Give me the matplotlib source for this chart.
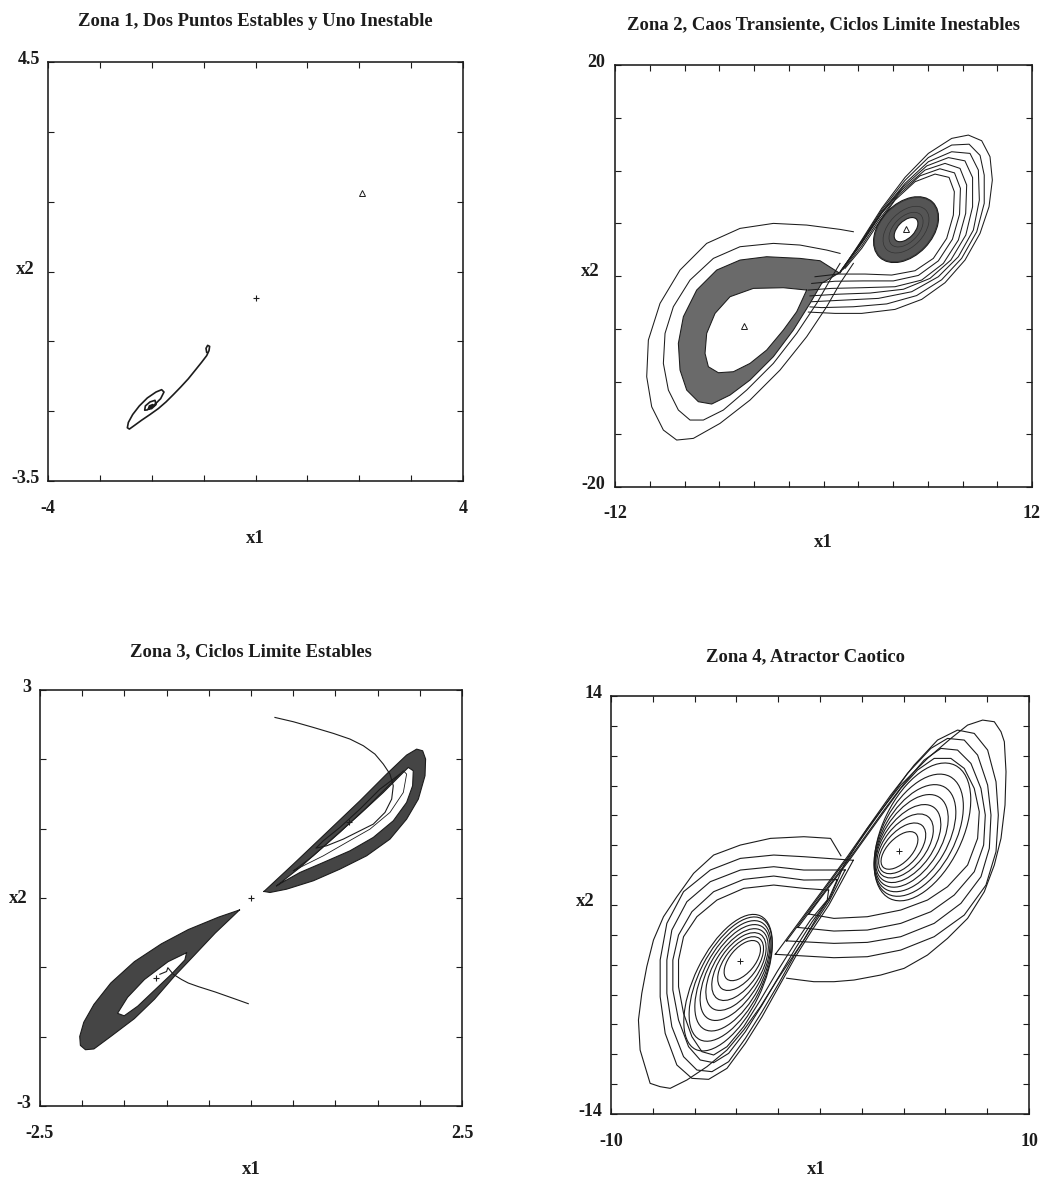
import numpy as np
import matplotlib
matplotlib.use("Agg")
import matplotlib.pyplot as plt
from matplotlib.patches import Ellipse, Polygon
from matplotlib.transforms import Affine2D, ScaledTranslation

plt.rcParams['font.family'] = ['Liberation Serif', 'DejaVu Serif']
plt.rcParams['font.weight'] = 'bold'

# ----------------------------------------------------------------- data
titles = ["Zona 1, Dos Puntos Estables y Uno Inestable",
          "Zona 2, Caos Transiente, Ciclos Limite Inestables",
          "Zona 3, Ciclos Limite Estables",
          "Zona 4, Atractor Caotico"]
z1_xlim, z1_ylim = (-4, 4), (-3.5, 4.5)
z2_xlim, z2_ylim = (-12, 12), (-20, 20)
z3_xlim, z3_ylim = (-2.5, 2.5), (-3, 3)
z4_xlim, z4_ylim = (-10, 10), (-14, 14)
z1_xticklab, z1_yticklab = ["-4", "4"], ["-3.5", "4.5"]
z2_xticklab, z2_yticklab = ["-12", "12"], ["-20", "20"]
z3_xticklab, z3_yticklab = ["-2.5", "2.5"], ["-3", "3"]
z4_xticklab, z4_yticklab = ["-10", "10"], ["-14", "14"]

# ---- Zona 1 : trajectory spiralling into the stable point
z1_traj = [(-0.942, -1.042), (-0.955, -0.967), (-0.923, -0.910), (-0.885, -0.929),
           (-0.897, -1.011), (-0.942, -1.106), (-1.039, -1.232), (-1.167, -1.390),
           (-1.296, -1.548), (-1.443, -1.706), (-1.585, -1.851), (-1.726, -1.990),
           (-1.874, -2.117), (-2.034, -2.230), (-2.195, -2.338), (-2.343, -2.445),
           (-2.432, -2.508), (-2.471, -2.483), (-2.452, -2.382), (-2.368, -2.230),
           (-2.240, -2.066), (-2.086, -1.914), (-1.919, -1.801), (-1.810, -1.756),
           (-1.765, -1.801), (-1.829, -1.927), (-1.957, -2.053), (-2.086, -2.142),
           (-2.137, -2.148), (-2.124, -2.066), (-2.034, -1.990), (-1.938, -1.959),
           (-1.919, -2.041), (-2.002, -2.117), (-2.066, -2.129), (-2.047, -2.066),
           (-1.983, -2.041), (-1.996, -2.091), (-2.021, -2.085)]
z1_plus = [(0.0, 0.0)]
z1_tri = [(2.05, 2.0)]

# ---- Zona 2
z2_tri = [(-4.56, -4.74), (4.75, 4.42)]
z2_left_band_outer = [(0.90, 0.30), (-0.201, 1.454), (-1.352, 1.675), (-3.271, 1.833),
                      (-4.806, 1.517), (-6.148, 0.569), (-7.300, -1.327), (-8.067, -3.854),
                      (-8.355, -6.382), (-8.259, -8.910), (-7.875, -10.806), (-7.204, -11.912),
                      (-6.436, -12.133), (-5.381, -11.280), (-4.230, -9.858), (-2.887, -7.646),
                      (-1.736, -5.118), (-0.777, -2.591), (-0.105, -0.695)]
z2_left_hole = [(-0.969, -1.327), (-2.311, -1.106), (-4.038, -1.169), (-5.381, -1.959),
                (-6.244, -3.539), (-6.724, -5.434), (-6.820, -7.330), (-6.628, -8.594),
                (-6.053, -9.163), (-5.189, -9.068), (-4.230, -8.278), (-3.271, -7.014),
                (-2.311, -5.118), (-1.544, -3.381)]
z2_left_loop2 = [(0.950, 2.149), (0.183, 2.465), (-1.352, 2.939), (-2.887, 3.097), (-4.806, 2.781),
                 (-6.340, 1.675), (-7.683, -0.379), (-8.643, -2.907), (-9.122, -5.434),
                 (-9.218, -8.278), (-8.930, -10.806), (-8.355, -12.701), (-7.683, -13.649),
                 (-6.916, -13.649), (-5.765, -12.701), (-4.422, -10.806), (-2.887, -8.278),
                 (-1.544, -5.434), (-0.393, -2.591), (0.374, -0.379), (0.950, 1.201)]
z2_left_loop1 = [(1.718, 4.202), (0.950, 4.424), (-0.969, 4.834), (-2.887, 4.992), (-4.806, 4.518),
                 (-6.724, 3.097), (-8.259, 0.569), (-9.410, -2.591), (-10.081, -6.066),
                 (-10.177, -9.542), (-9.890, -12.386), (-9.218, -14.597), (-8.451, -15.545),
                 (-7.491, -15.387), (-5.956, -13.965), (-4.230, -11.754), (-2.503, -8.910),
                 (-0.969, -5.750), (0.183, -2.907), (0.950, -0.695), (1.718, 1.201)]
# dense ring of the right lobe: (cx, cy, a, b, angle); a, b in x-units of equal screen length
z2_right_ring = [(4.75, 4.40, 2.20, 1.50, 46.0), (4.75, 4.40, 0.85, 0.48, 46.0)]
z2_right_ring_lines = [(4.75, 4.40, 2.15, 1.45, 46.0), (4.75, 4.40, 1.60, 1.00, 46.0),
                       (4.75, 4.40, 1.20, 0.72, 46.0)]
z2_R1 = [(1.238, 0.727), (2.197, 2.623), (3.156, 4.992), (4.116, 7.204), (5.267, 8.942),
         (6.418, 9.668), (7.224, 9.353), (7.530, 7.994), (7.473, 5.782), (7.089, 3.570),
         (6.322, 1.675), (5.267, 0.506), (3.924, 0.095), (2.389, 0.190), (0.854, 0.190),
         (-0.489, -0.063)]
z2_Ra = [(1.14, 0.65), (2.20, 2.86), (3.25, 5.47), (4.31, 7.68), (5.55, 9.50), (6.70, 10.17),
         (7.54, 9.78), (7.88, 8.31), (7.83, 5.86), (7.42, 3.49), (6.61, 1.44), (5.46, 0.06),
         (4.02, -0.46), (2.29, -0.46), (0.66, -0.49), (-0.68, -0.70)]
z2_R2 = [(1.046, 0.569), (2.197, 3.097), (3.348, 5.940), (4.499, 8.152), (5.842, 10.048),
         (6.993, 10.680), (7.856, 10.205), (8.240, 8.626), (8.183, 5.940), (7.761, 3.413),
         (6.897, 1.201), (5.650, -0.379), (4.116, -1.011), (2.197, -1.106), (0.470, -1.169),
         (-0.873, -1.327)]
z2_Rb = [(1.00, 0.49), (2.20, 3.18), (3.35, 6.02), (4.60, 8.47), (5.94, 10.44), (7.19, 11.23),
         (8.14, 10.92), (8.58, 9.34), (8.58, 6.57), (8.19, 3.89), (7.33, 1.52), (6.13, -0.22),
         (4.60, -1.25), (2.68, -1.61), (0.85, -1.72), (-0.78, -1.88)]
z2_R3 = [(0.950, 0.411), (2.197, 3.254), (3.348, 6.098), (4.691, 8.784), (6.034, 10.838),
         (7.377, 11.785), (8.432, 11.627), (8.912, 10.048), (8.969, 7.204), (8.624, 4.360),
         (7.761, 1.833), (6.609, -0.063), (5.075, -1.485), (3.156, -2.117), (1.238, -2.275),
         (-0.681, -2.433)]
z2_Rc = [(0.95, 0.35), (2.20, 3.33), (3.35, 6.26), (4.69, 9.07), (6.03, 11.23), (7.38, 12.42),
         (8.38, 12.50), (9.01, 11.44), (9.25, 9.57), (9.25, 6.89), (8.82, 4.20), (7.95, 1.68),
         (6.80, -0.35), (5.36, -1.85), (3.64, -2.64), (1.72, -2.91), (-0.11, -2.99), (-0.78, -2.92)]
z2_R4 = [(0.950, 0.284), (2.197, 3.413), (3.348, 6.414), (4.691, 9.353), (6.034, 11.627),
         (7.377, 13.049), (8.336, 13.365), (9.104, 12.828), (9.583, 11.311), (9.717, 9.100),
         (9.526, 6.572), (9.008, 4.044), (8.144, 1.517), (6.993, -0.632), (5.650, -2.212),
         (4.116, -3.160), (2.197, -3.539), (0.662, -3.539), (-0.873, -3.413)]

# ---- Zona 3
z3_plus = [(0.0, 0.0), (1.16, 1.10), (-1.13, -1.15)]
z3_up_outer = [(0.154, 0.095), (0.502, 0.489), (0.897, 0.946), (1.291, 1.403), (1.607, 1.788),
               (1.844, 2.062), (1.963, 2.148), (2.034, 2.124), (2.069, 2.004), (2.062, 1.764),
               (1.983, 1.427), (1.844, 1.138), (1.647, 0.850), (1.370, 0.609), (1.054, 0.417),
               (0.739, 0.249), (0.423, 0.128), (0.225, 0.080)]
z3_up_inner = [(0.304, 0.176), (0.581, 0.441), (0.936, 0.826), (1.291, 1.211), (1.568, 1.523),
               (1.765, 1.764), (1.864, 1.884), (1.923, 1.836), (1.915, 1.619), (1.844, 1.379),
               (1.686, 1.114), (1.449, 0.874), (1.173, 0.681), (0.857, 0.513), (0.581, 0.369),
               (0.383, 0.234)]
z3_up_path = [(0.284, 2.605), (0.502, 2.543), (0.739, 2.461), (0.976, 2.375), (1.173, 2.293),
              (1.331, 2.197), (1.469, 2.076), (1.568, 1.932), (1.647, 1.788), (1.686, 1.619),
              (1.667, 1.427), (1.588, 1.235), (1.449, 1.066), (1.291, 0.970), (1.094, 0.850),
              (0.897, 0.754), (0.770, 0.720), (0.857, 0.826), (1.054, 1.019), (1.291, 1.283),
              (1.528, 1.571), (1.686, 1.716), (1.765, 1.788)]
z3_up_loop2 = [(0.502, 0.393), (0.739, 0.609), (1.054, 0.946), (1.370, 1.307), (1.647, 1.643),
               (1.805, 1.836), (1.844, 1.788), (1.805, 1.523), (1.647, 1.235), (1.410, 0.994),
               (1.133, 0.802), (0.857, 0.609), (0.620, 0.465), (0.502, 0.393)]
z3_lo_outer = [(-0.136, -0.172), (-0.383, -0.275), (-0.743, -0.455), (-1.062, -0.661),
               (-1.382, -0.918), (-1.661, -1.226), (-1.861, -1.535), (-1.981, -1.792),
               (-2.029, -1.997), (-2.021, -2.126), (-1.961, -2.188), (-1.861, -2.177),
               (-1.661, -1.997), (-1.382, -1.740), (-1.142, -1.458), (-0.903, -1.123),
               (-0.663, -0.815), (-0.424, -0.506), (-0.224, -0.275)]
z3_lo_inner = [(-0.763, -0.789), (-0.982, -0.918), (-1.262, -1.175), (-1.462, -1.432),
               (-1.581, -1.663), (-1.502, -1.699), (-1.342, -1.560), (-1.142, -1.329),
               (-0.942, -1.098), (-0.783, -0.892)]
z3_lo_path = [(-0.032, -1.524), (-0.184, -1.458), (-0.424, -1.355), (-0.623, -1.278),
              (-0.743, -1.226), (-0.823, -1.175), (-0.920, -1.100), (-0.985, -1.005),
              (-1.000, -1.060), (-1.080, -1.100)]

# ---- Zona 4
z4_plus = [(-3.81, -3.76), (3.79, 3.65)]
z4_left_ell = [(-3.72, -3.72, 1.15, 0.60, 50), (-3.80, -3.92, 1.50, 0.78, 53),
               (-3.88, -4.12, 1.85, 0.95, 56), (-3.97, -4.32, 2.20, 1.10, 58),
               (-4.07, -4.52, 2.55, 1.24, 60), (-4.17, -4.74, 2.90, 1.37, 62),
               (-4.28, -4.96, 3.25, 1.49, 63), (-4.40, -5.20, 3.55, 1.60, 64)]
z4_right_ell = [(3.80, 3.66, 1.12, 0.58, 46), (3.93, 3.80, 1.45, 0.80, 49),
                (4.07, 3.96, 1.78, 1.00, 52), (4.22, 4.12, 2.12, 1.19, 55),
                (4.38, 4.30, 2.47, 1.37, 58), (4.55, 4.48, 2.82, 1.55, 60),
                (4.72, 4.68, 3.18, 1.73, 62), (4.90, 4.90, 3.55, 1.90, 64)]
z4_Q1 = [(0.41, 1.00), (-0.776, 1.118), (-2.215, 1.341), (-3.653, 1.118), (-4.932, 0.337),
         (-5.892, -0.780), (-6.531, -2.119), (-6.771, -3.682), (-6.771, -5.469), (-6.531, -7.255),
         (-6.131, -8.818), (-5.652, -9.822), (-5.092, -10.045), (-4.453, -9.487), (-3.653, -8.148),
         (-2.854, -6.362), (-2.055, -4.464), (-1.255, -2.677), (-0.456, -1.003), (0.343, 0.337),
         (0.41, 1.00)]
z4_Q2 = [(0.82, 1.70), (-0.776, 1.676), (-2.215, 1.944), (-3.653, 1.721), (-5.092, 0.895),
         (-6.131, -0.445), (-6.771, -2.008), (-7.043, -3.682), (-7.043, -5.692), (-6.771, -7.701),
         (-6.291, -9.487), (-5.732, -10.380), (-5.092, -10.559), (-4.373, -9.934), (-3.573, -8.483),
         (-2.774, -6.697), (-1.975, -4.799), (-1.175, -2.901), (-0.376, -1.115), (0.423, 0.448),
         (0.82, 1.70)]
z4_Q3 = [(1.20, 2.35), (-0.776, 2.346), (-2.215, 2.569), (-3.813, 2.346), (-5.252, 1.565),
         (-6.371, 0.225), (-7.091, -1.673), (-7.330, -3.682), (-7.330, -5.915), (-7.091, -8.148),
         (-6.531, -10.157), (-5.892, -11.051), (-5.172, -11.162), (-4.373, -10.492), (-3.573, -8.929),
         (-2.774, -7.144), (-1.975, -5.245), (-1.175, -3.236), (-0.376, -1.450), (0.423, 0.225),
         (1.20, 2.35)]
z4_Q4 = [(1.59, 3.00), (-0.776, 3.239), (-2.215, 3.351), (-3.813, 3.127), (-5.252, 2.346),
         (-6.531, 0.895), (-7.330, -1.226), (-7.650, -3.682), (-7.650, -6.139), (-7.410, -8.594),
         (-6.851, -10.715), (-6.131, -11.609), (-5.332, -11.676), (-4.453, -10.939), (-3.573, -9.264),
         (-2.774, -7.478), (-1.975, -5.469), (-1.175, -3.459), (-0.376, -1.673), (0.423, 0.002),
         (1.59, 3.00)]
z4_P1 = [(-0.54, -0.60), (0.664, -0.893), (2.262, -0.781), (3.861, -0.334), (5.140, 0.336),
         (6.099, 1.229), (7.059, 2.680), (7.538, 4.466), (7.618, 6.252), (7.378, 7.815),
         (6.899, 9.155), (6.259, 9.825), (5.460, 9.825), (4.661, 9.043), (3.861, 7.815),
         (3.062, 6.252), (2.262, 4.690), (1.463, 3.126), (-0.54, -0.60)]
z4_P2 = [(-1.06, -1.50), (0.664, -1.741), (2.262, -1.674), (3.861, -1.227), (5.300, -0.446),
         (6.419, 0.671), (7.378, 2.233), (7.826, 4.020), (7.906, 6.029), (7.698, 7.815),
         (7.218, 9.490), (6.579, 10.383), (5.780, 10.495), (4.980, 9.713), (4.021, 8.150),
         (3.062, 6.364), (2.262, 4.801), (1.463, 3.238), (-1.06, -1.50)]
z4_P3 = [(-1.60, -2.40), (0.664, -2.567), (2.262, -2.500), (3.861, -2.120), (5.460, -1.227),
         (6.739, 0.113), (7.698, 1.899), (8.098, 3.797), (8.178, 6.029), (8.018, 8.038),
         (7.538, 10.048), (6.899, 11.053), (6.099, 11.164), (5.300, 10.495), (4.181, 8.820),
         (3.222, 6.922), (2.262, 5.024), (1.303, 3.126), (-1.60, -2.40)]
z4_P4 = [(-2.14, -3.30), (0.664, -3.527), (2.262, -3.460), (3.861, -3.014), (5.460, -2.120),
         (6.899, -0.669), (7.938, 1.340), (8.418, 3.573), (8.529, 6.029), (8.418, 8.262),
         (8.018, 10.383), (7.378, 11.499), (6.579, 11.722), (5.620, 11.053), (4.501, 9.378),
         (3.382, 7.369), (2.422, 5.471), (1.303, 3.238), (-2.14, -3.30)]
z4_outer = [(1.00, 3.30), (0.503, 4.467), (-0.776, 4.579), (-2.374, 4.467), (-3.813, 4.020),
            (-5.092, 3.351), (-6.051, 2.123), (-6.851, 0.560), (-7.490, -0.780), (-7.970, -2.343),
            (-8.290, -4.129), (-8.529, -5.915), (-8.689, -7.701), (-8.609, -9.711), (-8.370, -10.827),
            (-8.130, -11.943), (-7.650, -12.167), (-7.171, -12.278), (-6.371, -11.720),
            (-5.412, -10.827), (-4.453, -9.711), (-3.653, -8.371), (-2.854, -6.808),
            (-2.055, -5.022), (-1.415, -3.682), (-0.776, -2.343), (-0.136, -0.780), (0.503, 0.560),
            (1.143, 2.680), (2.262, 5.136), (3.861, 8.039), (5.140, 9.825), (6.259, 11.164),
            (7.059, 12.057), (7.778, 12.392), (8.337, 12.281), (8.657, 11.611), (8.817, 10.941),
            (8.897, 8.932), (8.849, 6.699), (8.657, 4.466), (8.337, 2.680), (7.858, 0.894),
            (7.059, -0.892), (6.099, -2.232), (5.140, -3.348), (4.021, -4.241), (2.902, -4.688),
            (1.623, -5.023), (0.664, -5.134), (-0.296, -5.134), (-0.935, -5.023), (-1.60, -4.90)]

# ----------------------------------------------------------------- helpers
INK = '#1c1c1c'
fig = plt.figure(figsize=(10.49, 11.81), dpi=100)


def yscale(ax):
    """y data units per x data unit of equal on-screen length."""
    pos = ax.get_position()
    W = pos.width * fig.get_figwidth()
    H = pos.height * fig.get_figheight()
    xr = ax.get_xlim()[1] - ax.get_xlim()[0]
    yr = ax.get_ylim()[1] - ax.get_ylim()[0]
    return (yr / H) / (xr / W)


def ellipse(ax, p, **kw):
    cx, cy, a, b, ang = p
    tr = Affine2D().scale(1.0, yscale(ax)).translate(cx, cy) + ax.transData
    ax.add_patch(Ellipse((0, 0), 2 * a, 2 * b, angle=ang, transform=tr, **kw))


def line(ax, pts, lw=0.8, **kw):
    xs, ys = zip(*pts)
    ax.plot(xs, ys, color=INK, lw=lw, solid_joinstyle='round', **kw)


def poly(ax, pts, fc, z):
    ax.add_patch(Polygon(pts, closed=True, fc=fc, ec='none', zorder=z))


def style(ax, xlim, ylim, nx, ny, xlab, ylab, title, tpad, xpad, ypad, xl_pos, yl_pos, tx=0.5):
    ax.set_xlim(*xlim)
    ax.set_ylim(*ylim)
    ax.set_xticks(np.linspace(xlim[0], xlim[1], nx + 1))
    ax.set_yticks(np.linspace(ylim[0], ylim[1], ny + 1))
    ax.set_xticklabels([xlab[0]] + [''] * (nx - 1) + [xlab[1]])
    ax.set_yticklabels([ylab[0]] + [''] * (ny - 1) + [ylab[1]])
    ax.tick_params(direction='in', length=4, width=0.8, top=True, right=True,
                   labelsize=13, colors=INK)
    ax.tick_params(axis='x', pad=xpad)
    ax.tick_params(axis='y', pad=ypad)
    up = ScaledTranslation(0, 5 / 100, fig.dpi_scale_trans)
    for lbl in ax.get_yticklabels():
        lbl.set_transform(lbl.get_transform() + up)
    for sp in ax.spines.values():
        sp.set_linewidth(1.15)
        sp.set_color(INK)
    ax.set_title(title, fontsize=13.4, fontweight='bold', pad=tpad, x=tx, color=INK)
    ax.set_xlabel('x1', fontsize=13.5, fontweight='bold', color=INK)
    ax.set_ylabel('x2', fontsize=13.5, fontweight='bold', rotation=0, color=INK)
    ax.xaxis.set_label_coords(*xl_pos)
    ax.yaxis.set_label_coords(*yl_pos)


# axes rectangles (figure fraction)
ax1 = fig.add_axes([0.0458, 0.5927, 0.3956, 0.3548])
ax2 = fig.add_axes([0.5863, 0.5876, 0.3975, 0.3573])
ax3 = fig.add_axes([0.0381, 0.0635, 0.4023, 0.3522])
ax4 = fig.add_axes([0.5825, 0.0567, 0.3985, 0.3539])

style(ax1, z1_xlim, z1_ylim, 8, 6, z1_xticklab, z1_yticklab, titles[0], 26, 14, 6,
      (0.5, -0.117), (-0.055, 0.484))
style(ax2, z2_xlim, z2_ylim, 12, 8, z2_xticklab, z2_yticklab, titles[1], 26, 13, 7,
      (0.5, -0.111), (-0.06, 0.49))
style(ax3, z3_xlim, z3_ylim, 10, 6, z3_xticklab, z3_yticklab, titles[2], 24, 14, 6,
      (0.5, -0.132), (-0.052, 0.478))
style(ax4, z4_xlim, z4_ylim, 10, 14, z4_xticklab, z4_yticklab, titles[3], 25, 14, 6,
      (0.49, -0.112), (-0.062, 0.488), tx=0.466)

# ---- Zona 1
line(ax1, z1_traj, lw=1.2)
ax1.plot(*zip(*z1_plus), '+', color=INK, ms=5, mew=0.8)
ax1.plot(*zip(*z1_tri), '^', mfc='none', mec=INK, ms=4.5, mew=0.7)

# ---- Zona 2
poly(ax2, z2_left_band_outer, '#6a6a6a', 1)
poly(ax2, z2_left_hole, 'white', 1.5)
line(ax2, z2_left_band_outer + [z2_left_band_outer[0]], lw=0.75)
line(ax2, z2_left_hole + [z2_left_hole[0]], lw=0.75)
line(ax2, z2_left_loop2, lw=0.75)
line(ax2, z2_left_loop1, lw=0.75)
ellipse(ax2, z2_right_ring[0], fc='#555555', ec=INK, lw=0.8, zorder=1)
ellipse(ax2, z2_right_ring[1], fc='white', ec=INK, lw=0.8, zorder=1.5)
for p in z2_right_ring_lines:
    ellipse(ax2, p, fill=False, ec='#333333', lw=0.5, zorder=2)
for loop in (z2_R1, z2_Ra, z2_R2, z2_Rb, z2_R3, z2_Rc, z2_R4):
    line(ax2, loop, lw=0.75)
ax2.plot(*zip(*z2_tri), '^', ls='none', mfc='white', mec=INK, ms=5, mew=0.7, zorder=5)

# ---- Zona 3
poly(ax3, z3_up_outer, '#454545', 1)
poly(ax3, z3_up_inner, 'white', 1.5)
poly(ax3, z3_lo_outer, '#454545', 1)
poly(ax3, z3_lo_inner, 'white', 1.5)
for pts in (z3_up_outer, z3_up_inner, z3_lo_outer, z3_lo_inner):
    line(ax3, pts + [pts[0]], lw=0.8)
line(ax3, z3_up_path)
line(ax3, z3_up_loop2, lw=0.6)
line(ax3, z3_lo_path)
ax3.plot(*zip(*z3_plus), '+', ls='none', color=INK, ms=5, mew=0.8, zorder=5)

# ---- Zona 4
for p in z4_left_ell + z4_right_ell:
    ellipse(ax4, p, fill=False, ec=INK, lw=0.8)
for loop in (z4_Q1, z4_Q2, z4_Q3, z4_Q4, z4_P1, z4_P2, z4_P3, z4_P4):
    line(ax4, loop, lw=0.8)
line(ax4, z4_outer, lw=0.8)
ax4.plot(*zip(*z4_plus), '+', ls='none', color=INK, ms=4, mew=0.7, zorder=5)

fig.savefig('out.png', dpi=100)
